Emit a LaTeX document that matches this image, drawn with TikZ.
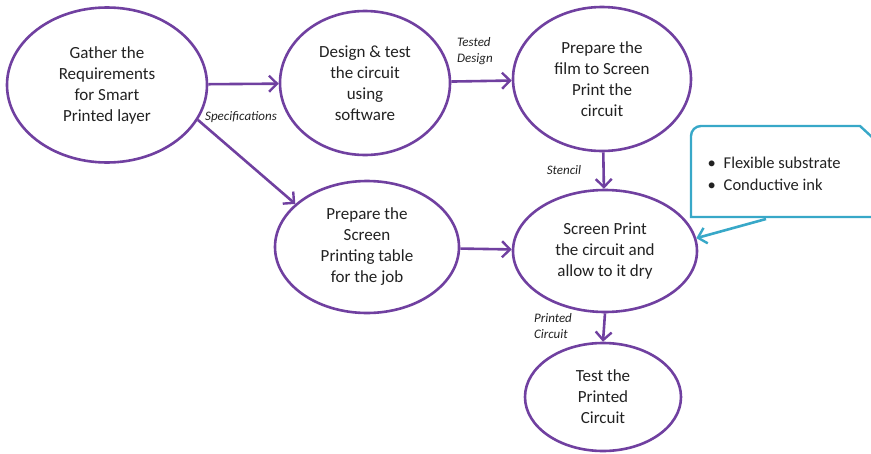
\documentclass[tikz,border=0pt]{standalone}
\usepackage{fontspec}
\setmainfont{Carlito}
\usetikzlibrary{shapes.geometric,arrows.meta}
\definecolor{flowpurple}{HTML}{7040A0}
\definecolor{notecyan}{HTML}{38A8C8}
\definecolor{ink}{HTML}{222222}
\tikzset{
  stage/.style={ellipse, draw=flowpurple, line width=2.6pt, inner sep=0pt,
    align=center, text=ink, font=\fontsize{17}{21}\selectfont},
  flow/.style={draw=flowpurple, line width=2.6pt,
    -{Straight Barb[length=8pt,width=16pt,line width=2.4pt]}},
  tag/.style={font=\fontsize{13}{16}\selectfont\itshape, text=ink, align=left},
  notearrow/.style={draw=notecyan, line width=2.6pt,
    -{Straight Barb[length=8pt,width=16pt,line width=2.4pt]}}
}
\begin{document}
\begin{tikzpicture}[x=1pt,y=-1pt]
\useasboundingbox (0,0) rectangle (871,453);
\clip (0,0) rectangle (871,453);
\fill[white] (0,0) rectangle (871,453);

% process stages
\node[stage, minimum width=200pt, minimum height=155pt] (gather) at (107,85)
  {Gather the\\Requirements\\for Smart\\Printed layer};
\node[stage, minimum width=170pt, minimum height=144pt] (design) at (365,83)
  {Design \& test\\the circuit\\using\\software};
\node[stage, minimum width=178pt, minimum height=144pt] (film) at (602,79)
  {Prepare the\\film to Screen\\Print the\\circuit};
\node[stage, minimum width=184pt, minimum height=132pt] (table) at (367,247)
  {Prepare the\\Screen\\Printing table\\for the job};
\node[stage, minimum width=184pt, minimum height=122pt] (screen) at (605,251)
  {Screen Print\\the circuit and\\allow to it dry};
\node[stage, minimum width=156pt, minimum height=108pt] (test) at (603,397)
  {Test the\\Printed\\Circuit};

% connectors between stages
\draw[flow] (gather) -- (design);
\draw[flow] (gather.-21) -- (table.149);
\draw[flow] (design) -- (film);
\draw[flow] (film.-89) -- (screen.91);
\draw[flow] (table) -- (screen);
\draw[flow] (screen.-90) -- (test.90);

% connector labels
\node[tag] (lspec) at (241,117) {Specifications};
\node[tag] (ltested) at (475,51) {Tested\\Design};
\node[tag] (lstencil) at (564,170) {Stencil};
\node[tag] (lprinted) at (553,326) {Printed\\Circuit};

% materials callout: rounded top-left, clipped top-right corner
% (positive y points down here, so the arc turns through 270)
\draw[notecyan, line width=2.4pt, fill=white]
  (691,217) -- (691,136) arc[start angle=180, end angle=270, radius=10]
  -- (860,126) -- (886,150) -- (886,217) -- cycle;
\node[font=\fontsize{16.5}{22}\selectfont, text=ink, align=left, anchor=west] (notes) at (704,174)
  {\textbullet\hspace{8pt}Flexible substrate\\\textbullet\hspace{8pt}Conductive ink};
\coordinate (notetail) at (766,219);
\draw[notearrow] (notetail) -- (screen.8);
\end{tikzpicture}
\end{document}
